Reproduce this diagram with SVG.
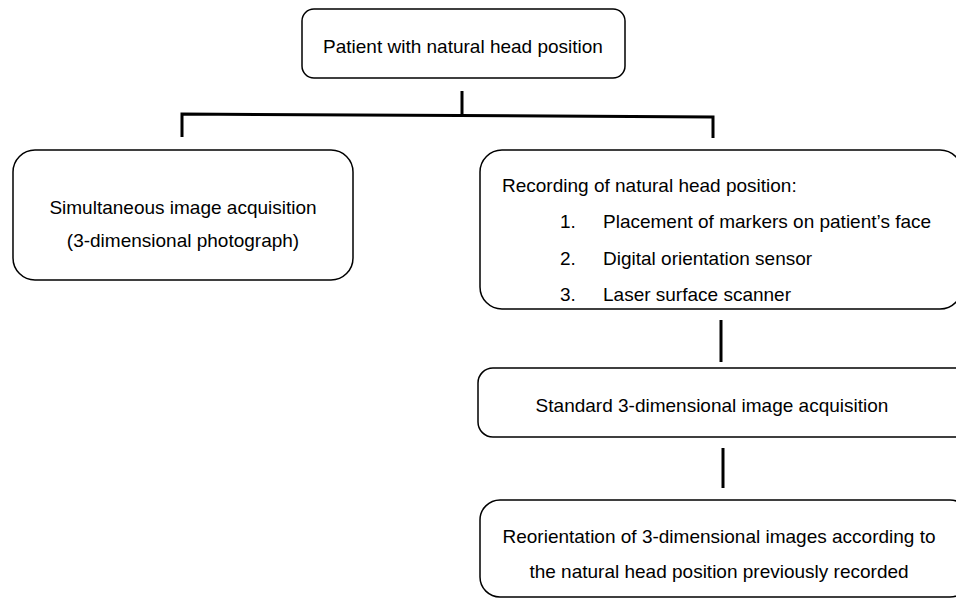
<svg xmlns="http://www.w3.org/2000/svg" width="956" height="598" viewBox="0 0 956 598">
<style>
.box{fill:#fff;stroke:#000;stroke-width:1.5}
.t{font-family:"Liberation Sans",Arial,sans-serif;font-size:19px;fill:#000}
.c{text-anchor:middle}
.conn{stroke:#000;stroke-width:3;fill:none}
</style>
<rect width="956" height="598" fill="#fff"/>
<g id="connectors">
<line class="conn" x1="462" y1="91" x2="462" y2="115"/>
<polyline class="conn" points="182,137 182,114 713,117 713,138"/>
<line class="conn" x1="721" y1="320" x2="721" y2="362"/>
<line class="conn" x1="723" y1="448" x2="723" y2="488"/>
</g>
<g id="n-top">
<rect class="box" x="302" y="9" width="323" height="69" rx="12"/>
<text class="t c" x="463" y="53">Patient with natural head position</text>
</g>
<g id="n-left">
<rect class="box" x="13" y="150" width="340" height="130" rx="22"/>
<text class="t c" x="183" y="214">Simultaneous image acquisition</text>
<text class="t c" x="183" y="247">(3-dimensional photograph)</text>
</g>
<g id="n-record">
<rect class="box" x="480" y="150" width="482" height="159" rx="22"/>
<text class="t" x="502" y="192">Recording of natural head position:</text>
<text class="t" x="560" y="228">1.</text>
<text class="t" x="603" y="228">Placement of markers on patient’s face</text>
<text class="t" x="560" y="265">2.</text>
<text class="t" x="603" y="265">Digital orientation sensor</text>
<text class="t" x="560" y="301">3.</text>
<text class="t" x="603" y="301">Laser surface scanner</text>
</g>
<g id="n-standard">
<rect class="box" x="478" y="368" width="495" height="69" rx="15"/>
<text class="t c" x="712" y="412">Standard 3-dimensional image acquisition</text>
</g>
<g id="n-reorient">
<rect class="box" x="480" y="500" width="490" height="97" rx="20"/>
<text class="t c" x="719" y="543">Reorientation of 3-dimensional images according to</text>
<text class="t c" x="719" y="578">the natural head position previously recorded</text>
</g>
</svg>
